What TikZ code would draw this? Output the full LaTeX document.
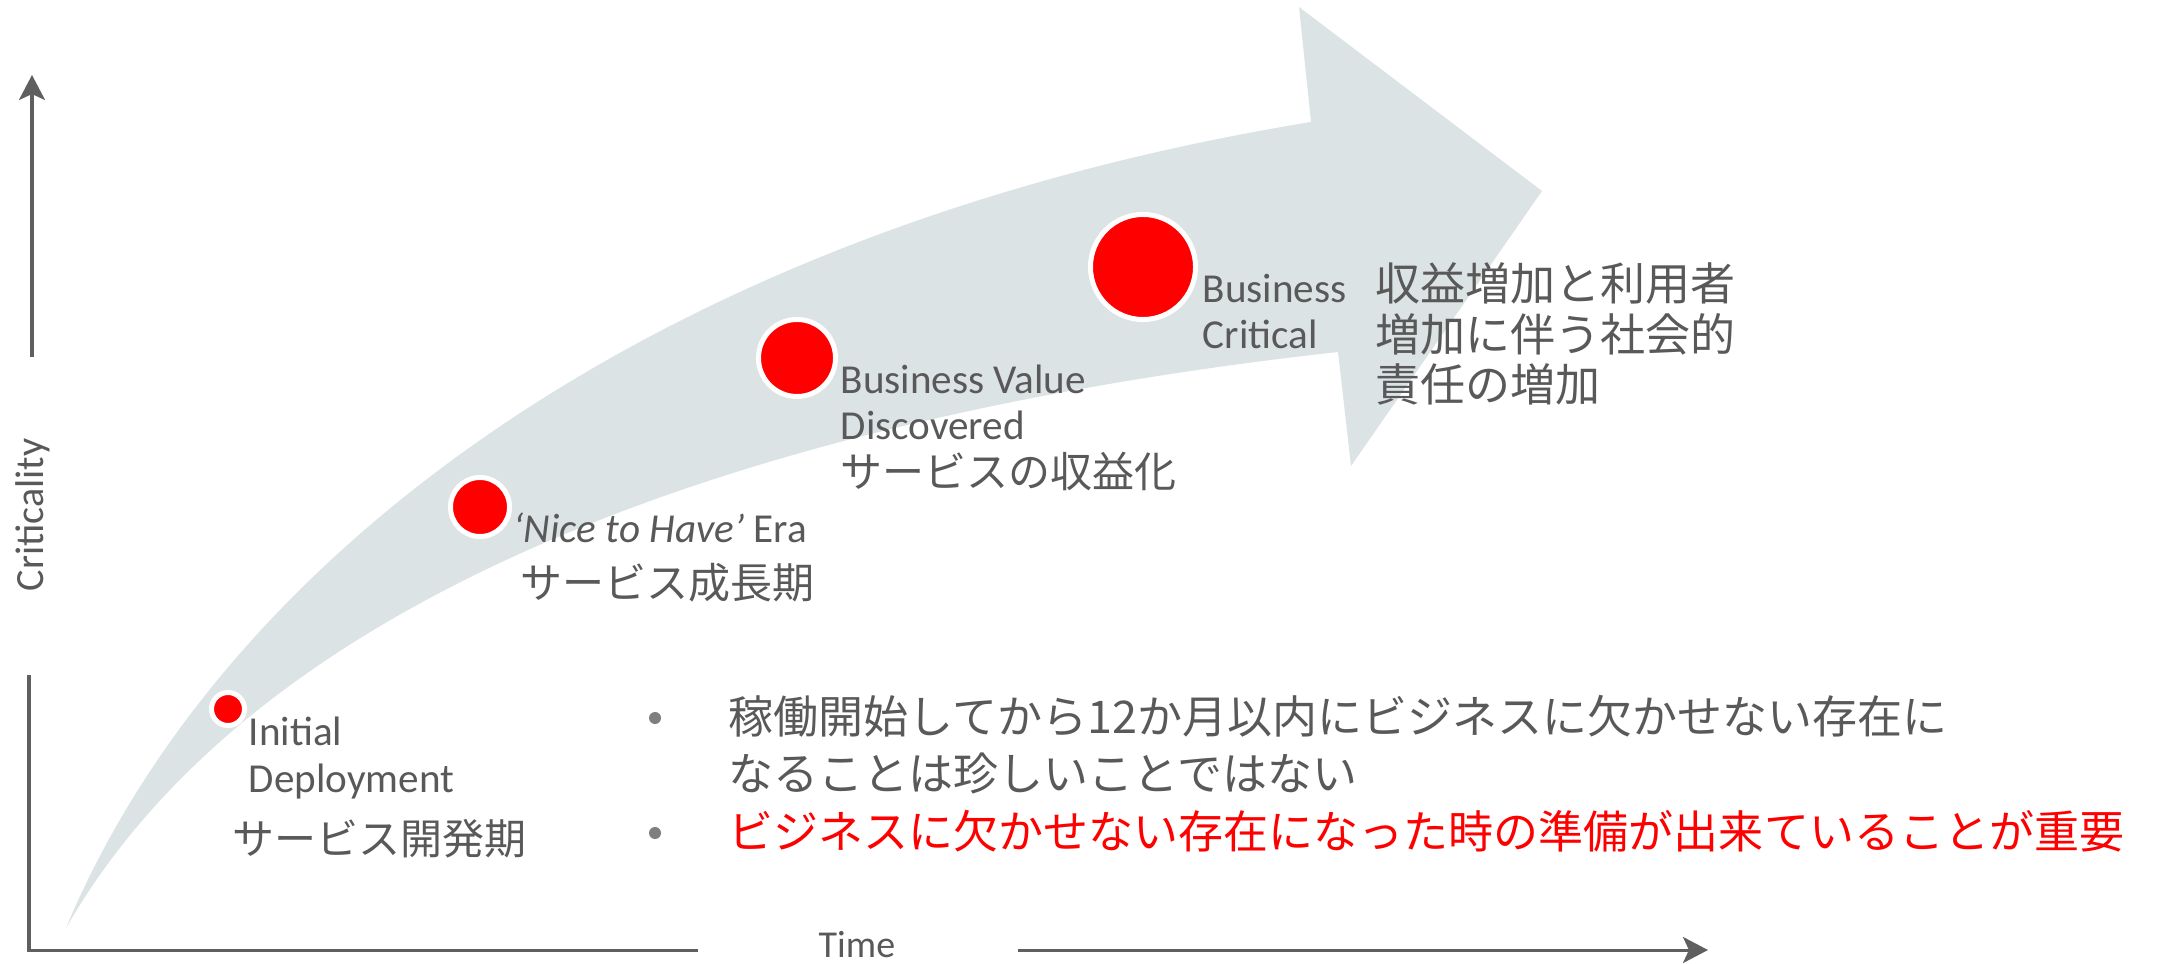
\documentclass[tikz,border=0pt]{standalone}
\usepackage{fontspec}
\setmainfont{Carlito}
\newfontfamily\jp{Noto Sans CJK JP}
\usetikzlibrary{arrows.meta}

\definecolor{txtgray}{HTML}{595959}
\definecolor{axisgray}{HTML}{5F5F5F}
\definecolor{bandfill}{HTML}{DCE3E4}
\definecolor{dotred}{HTML}{FF0000}
\definecolor{bulletgray}{HTML}{7F7F7F}

\tikzset{
  stage/.style={circle,fill=dotred,draw=white,line width=0.5mm,inner sep=0pt},
  lbl/.style={anchor=base west,inner sep=0pt,text=txtgray,align=left,
    font=\fontsize{11.7}{13.1}\selectfont},
  jplbl/.style={anchor=west,inner sep=0pt,text=txtgray,
    font=\jp\fontsize{11.95}{14}\selectfont},
  jpblock/.style={anchor=base west,inner sep=0pt,text=txtgray,align=left,
    font=\jp\fontsize{12.8}{14.5}\selectfont},
  bullet/.style={circle,fill=bulletgray,inner sep=0pt,minimum size=1.2mm},
  bultext/.style={anchor=base west,inner sep=0pt,align=left,
    font=\jp\fontsize{12.8}{16.2}\selectfont},
  axis/.style={draw=axisgray,line width=0.3mm},
  axistip/.style={-{Stealth[length=2.5mm,width=2.6mm,inset=0.6mm]}}
}

\begin{document}
\begin{tikzpicture}[x=0.01cm,y=-0.01cm]
    \useasboundingbox (0,0) rectangle (2157,964);

    % growth arrow
    \fill[bandfill] (66,928) .. controls (220,560) and (650,230) .. (1311,122)
        -- (1299,7) -- (1542,191) -- (1351,466) -- (1338,352)
        .. controls (950,395) and (300,520) .. (66,928) -- cycle;

    % axes
    \coordinate (origin) at (29,950);
    \coordinate (xcut) at (698,950);
    \coordinate (xresume) at (1018,950);
    \coordinate (xend) at (1708,950);
    \coordinate (ycut) at (29,675);
    \coordinate (yresume) at (32,357);
    \coordinate (yend) at (32,75);
    \draw[axis] (xcut) -- (origin) -- (ycut);
    \draw[axis,axistip] (xresume) -- (xend);
    \draw[axis,axistip] (yresume) -- (yend);
    \node[lbl,font=\fontsize{10.8}{12}\selectfont] (time) at (818,957) {Time};
    \node[lbl,anchor=base,rotate=90,font=\fontsize{11.4}{12}\selectfont] (crit) at (43,515) {Criticality};

    % stages
    \node[stage,minimum size=3.3mm] (init) at (228,709) {};
    \node[stage,minimum size=5.9mm] (nice) at (480,507) {};
    \node[stage,minimum size=7.7mm] (value) at (797,358) {};
    \node[stage,minimum size=10.5mm] (critical) at (1143,267) {};

    % base of a multi-line label = its last line
    \node[lbl] (initlbl) at (248,792) {Initial\\Deployment};
    \node[jplbl] (initjp) at (232,839) {サービス開発期};
    \node[lbl] (nicelbl) at (513,543) {{\itshape ‘Nice to Have’} Era};
    \node[jplbl] (nicejp) at (520,583) {サービス成長期};
    \node[lbl] (valuelbl) at (840,440) {Business Value\\Discovered};
    \node[jplbl] (valuejp) at (840,471) {サービスの収益化};
    \node[lbl] (critlbl) at (1202,349) {Business\\Critical};
    \node[jpblock] (critjp) at (1375,402) {収益増加と利用者\\増加に伴う社会的\\責任の増加};

    % notes
    \node[bullet] (dot1) at (655,718) {};
    \node[bullet] (dot2) at (655,833) {};
    \node[bultext,text=txtgray] (note1) at (728,790) {稼働開始してから12か月以内にビジネスに欠かせない存在に\\なることは珍しいことではない};
    \node[bultext,text=dotred] (note2) at (728,848) {ビジネスに欠かせない存在になった時の準備が出来ていることが重要};
\end{tikzpicture}
\end{document}
